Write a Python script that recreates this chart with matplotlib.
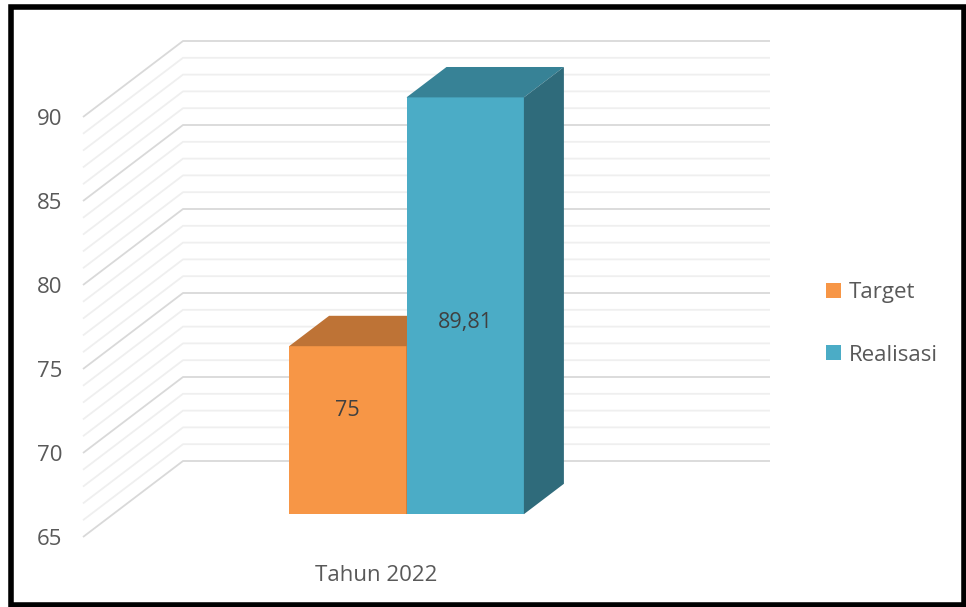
import matplotlib.pyplot as plt
from matplotlib.patches import Polygon, Patch, Rectangle
import numpy as np

plt.rcParams['font.family'] = ['Open Sans', 'DejaVu Sans']

# data
categories = ['Tahun 2022']
series_names = ['Target', 'Realisasi']
series_values = [75, 89.81]
value_labels = ['75', '89,81']
y_ticks = [65, 70, 75, 80, 85, 90]

# colours: front, top, side
front_colors = ['#F79646', '#4BACC6']
top_colors = ['#BE7336', '#378296']
side_colors = ['#B0672E', '#2F6B7B']
text_color = '#595959'

base = y_ticks[0]
y_max = y_ticks[-1]

W, H = 966, 607
fig = plt.figure(figsize=(W / 100, H / 100), dpi=100)

# front plane of the plot floor in pixels
left_px, right_px = 83, 670
bottom_px, top_px = 537, 117
ax = fig.add_axes([left_px / W, (H - bottom_px) / H,
                   (right_px - left_px) / W, (bottom_px - top_px) / H])
ax.set_xlim(-0.5, 0.5)
ax.set_ylim(base, y_max)

# oblique depth (back wall offset) in pixels -> data units
depth_px = (100, 76)
ddx = depth_px[0] / (right_px - left_px) * 1.0
ddy = depth_px[1] / (bottom_px - top_px) * (y_max - base)


def proj(x, v, d):
    return x + d * ddx, v + d * ddy


# gridlines: side wall + back wall
for v in range(base, y_max + 1):
    major = (v % 5 == 0)
    pts = np.array([proj(-0.5, v, 0), proj(-0.5, v, 1), proj(0.5, v, 1)])
    ax.plot(pts[:, 0], pts[:, 1], color='#D9D9D9' if major else '#EFEFEF',
            lw=1.3, zorder=1, clip_on=False, solid_capstyle='butt')

# 3D columns
bar_w = 0.2
d0, d1 = 0.3, 0.7
label_frac = [0.62, 0.46]
for i, (name, val) in enumerate(zip(series_names, series_values)):
    x0 = -bar_w + i * bar_w
    x1 = x0 + bar_w
    fx, fy = proj(x0, base, d0)
    ax.bar(fx, val - base, bottom=fy, width=bar_w, align='edge',
           color=front_colors[i], zorder=3 + i * 3, clip_on=False)
    top = [proj(x0, val, d0), proj(x1, val, d0), proj(x1, val, d1), proj(x0, val, d1)]
    ax.add_patch(Polygon(top, closed=True, facecolor=top_colors[i],
                         edgecolor='none', zorder=4 + i * 3, clip_on=False))
    side = [proj(x1, base, d0), proj(x1, base, d1), proj(x1, val, d1), proj(x1, val, d0)]
    ax.add_patch(Polygon(side, closed=True, facecolor=side_colors[i],
                         edgecolor='none', zorder=4 + i * 3, clip_on=False))
    lx, ly = proj((x0 + x1) / 2, base + (val - base) * label_frac[i], d0)
    ax.text(lx, ly, value_labels[i], ha='center', va='center',
            fontsize=15.5, color='#404040', zorder=10)

# axes
for s in ax.spines.values():
    s.set_visible(False)
ax.set_yticks(y_ticks)
ax.set_yticklabels([str(t) for t in y_ticks])
ax.set_xticks([0])
ax.set_xticklabels(categories)
ax.tick_params(axis='y', length=0, pad=15, labelsize=16, labelcolor=text_color)
ax.tick_params(axis='x', length=0, pad=20, labelsize=16, labelcolor=text_color)
ax.patch.set_visible(False)

# legend
handles = [Patch(facecolor=c, edgecolor='none') for c in front_colors]
leg = fig.legend(handles, series_names, loc='center left',
                 bbox_to_anchor=(806 / W, 1 - 324 / H), frameon=False,
                 fontsize=16, handlelength=0.66, handleheight=0.66,
                 handletextpad=0.35, labelspacing=1.85)
for t in leg.get_texts():
    t.set_color(text_color)

# outer frame
fig.patches.append(Rectangle((10.5 / W, 2.5 / H), 953.5 / W, 598 / H,
                             transform=fig.transFigure, fill=False,
                             edgecolor='black', lw=4))

fig.savefig('out.png', dpi=100)
